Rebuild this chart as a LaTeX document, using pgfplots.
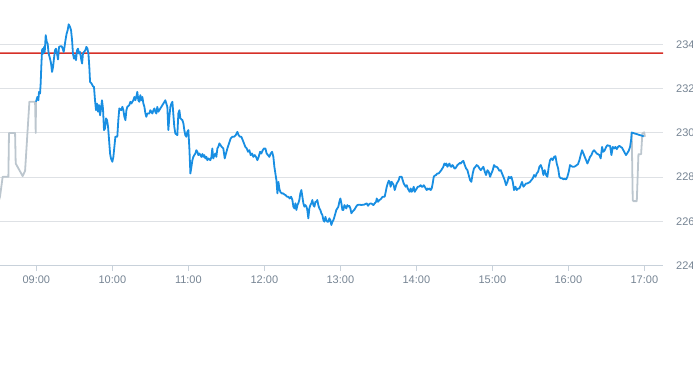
\documentclass[border=0pt]{standalone}
\usepackage{fontspec}
\setmainfont{Liberation Sans}
\usepackage{pgfplots}
\pgfplotsset{compat=1.18}
\definecolor{lineblue}{RGB}{24,142,226}
\definecolor{linegrey}{RGB}{188,198,206}
\definecolor{gridgrey}{RGB}{222,225,229}
\definecolor{axisgrey}{RGB}{200,209,218}
\definecolor{labelgrey}{RGB}{118,132,147}
\definecolor{refline}{RGB}{214,48,40}
\begin{document}
\begin{tikzpicture}[x=1pt,y=1pt]
\useasboundingbox (0,-99.5) rectangle (693,265.5);
\begin{axis}[
  at={(0,0)}, anchor=south west,
  scale only axis, width=663pt, height=265.5pt,
  xmin=511.3, xmax=1034.7, ymin=224, ymax=236,
  axis x line*=bottom, axis y line*=right,
  x axis line style={color=axisgrey, line width=1pt, -},
  y axis line style={draw=none},
  xtick={540,600,660,720,780,840,900,960,1020},
  xticklabels={09:00,10:00,11:00,12:00,13:00,14:00,15:00,16:00,17:00},
  ytick={224,226,228,230,232,234},
  yticklabels={224,226,228,230,232,234},
  ymajorgrids, grid style={color=gridgrey, line width=0.8pt},
  xtick style={color=axisgrey, line width=1pt},
  ytick style={draw=none},
  xtick align=outside, major tick length=5pt,
  xticklabel style={font=\fontsize{11}{13}\selectfont, color=labelgrey, inner sep=0pt, anchor=north, yshift=-5pt},
  yticklabel style={font=\fontsize{11}{13}\selectfont, color=labelgrey, inner sep=0pt, anchor=west, xshift=13pt},
  clip=true,
]
% pre-market (grey)
\addplot[draw=linegrey, line width=1.8pt, line join=round] coordinates {
(509.5,226.75)(511.3,227.11)(513.4,228.01)(517.9,228.01)(518.4,229.99)(523.2,229.99)(523.7,228.61)(529.2,228.04)(531.1,228.28)(534.5,231.40)(539.0,231.40)(539.5,229.99)(539.7,231.40)
};
% after-hours (grey)
\addplot[draw=linegrey, line width=1.8pt, line join=round] coordinates {
(1010.0,230.01)(1010.8,226.96)(1011.3,226.91)(1014.0,226.91)(1015.3,229.03)(1017.4,229.03)(1018.4,229.97)(1019.8,230.02)(1020.5,229.82)
};
% reference line
\addplot[draw=none, fill=refline] coordinates {(505,233.57)(1040,233.57)(1040,233.63)(505,233.63)} \closedcycle;
% session (blue)
\addplot[draw=lineblue, line width=1.8pt, line join=round] coordinates {
(539.7,231.40)(540.8,231.62)(541.6,231.47)(542.1,231.85)(542.9,231.77)(543.4,232.22)(543.9,232.98)(544.5,233.73)(545.0,233.80)(545.5,233.58)(546.1,233.88)(546.6,233.65)(547.4,234.41)(548.2,234.11)(548.9,234.03)(549.7,233.58)(550.8,233.35)(551.6,233.13)(552.4,232.75)(553.2,232.98)(553.9,233.35)(554.7,233.73)(555.5,233.80)(556.3,233.58)(557.1,233.31)(557.9,233.88)(558.9,233.91)(560.0,233.91)(560.8,233.80)(561.6,233.65)(562.4,233.95)(563.2,234.26)(563.9,234.48)(564.7,234.63)(565.5,234.90)(566.6,234.78)(567.4,234.63)(568.2,234.18)(568.9,233.58)(569.7,233.35)(570.5,233.50)(571.3,233.28)(572.1,233.73)(572.9,233.80)(573.7,233.58)(574.5,233.65)(575.3,233.35)(576.1,233.13)(576.8,233.58)(577.6,233.65)(578.7,233.73)(579.5,233.88)(580.3,233.81)(581.1,233.58)(581.8,232.98)(582.4,232.30)(583.2,232.25)(583.9,232.19)(584.7,232.10)(585.5,232.07)(586.3,231.47)(587.1,231.02)(587.9,231.32)(588.7,230.95)(589.5,231.25)(590.3,230.79)(591.1,231.10)(591.8,231.47)(592.6,231.10)(593.4,230.12)(594.2,230.19)(595.0,230.65)(595.8,230.57)(596.6,230.27)(597.4,229.67)(598.2,229.06)(598.9,228.84)(600.0,228.69)(600.8,228.91)(601.6,229.37)(602.4,229.82)(603.9,229.82)(604.7,230.57)(605.5,231.10)(607.1,231.02)(607.9,231.17)(608.7,231.02)(609.5,230.72)(610.3,230.57)(611.1,231.02)(611.8,231.17)(613.4,231.25)(614.2,231.40)(615.0,231.32)(615.8,231.40)(616.6,231.47)(617.4,231.62)(618.2,231.47)(618.9,231.62)(619.7,231.85)(620.5,231.47)(621.3,231.40)(622.1,231.70)(622.9,231.47)(623.7,231.62)(624.5,231.32)(625.3,231.17)(626.1,230.87)(626.8,230.72)(627.6,230.87)(629.2,230.87)(630.0,231.02)(630.8,230.95)(631.6,230.87)(632.4,231.02)(633.2,231.10)(633.9,230.95)(634.7,230.87)(635.5,231.17)(636.3,230.95)(637.1,231.02)(637.9,231.10)(638.7,231.17)(639.5,231.25)(640.3,231.32)(641.1,231.40)(641.8,231.47)(642.6,231.32)(643.4,231.17)(644.2,230.12)(645.0,230.72)(645.8,231.17)(646.6,231.32)(647.4,231.40)(648.2,230.79)(648.9,230.27)(649.7,229.97)(651.3,229.89)(652.1,230.87)(652.9,231.02)(653.7,230.65)(655.3,230.57)(656.1,230.42)(656.8,230.12)(657.6,229.89)(658.4,229.82)(659.2,230.04)(660.0,230.12)(660.8,229.29)(661.6,228.16)(662.4,228.46)(663.2,228.76)(663.9,228.91)(664.7,228.99)(665.5,229.06)(666.3,229.21)(667.1,229.14)(667.9,228.99)(668.7,229.06)(669.5,228.99)(670.3,228.91)(671.1,229.04)(671.8,228.91)(672.6,228.99)(673.4,228.84)(674.2,228.91)(675.0,228.76)(675.8,228.84)(677.4,228.76)(678.2,228.91)(678.9,229.29)(679.7,228.84)(680.5,228.99)(681.3,229.06)(682.1,228.91)(682.9,229.29)(683.7,229.37)(684.5,229.52)
(686.3,229.36)(687.6,229.29)(688.7,228.84)(689.7,229.06)(690.8,229.29)(692.1,229.52)(693.4,229.74)(694.7,229.82)(696.1,229.82)(697.4,229.89)(698.7,230.04)(699.7,229.89)(700.8,229.82)(701.8,229.82)(702.9,229.67)(703.9,229.52)(705.0,229.36)(706.1,229.29)(707.1,229.14)(708.2,229.21)(709.2,228.99)(710.3,229.06)(711.3,228.91)(712.4,228.99)(713.4,228.91)(714.5,228.76)(715.5,228.91)(716.6,229.14)(717.6,229.06)(718.7,229.21)(719.7,229.29)(720.8,229.29)(721.8,229.06)(722.9,228.99)(723.9,228.91)(725.0,229.06)(726.1,229.14)(727.1,228.91)(727.9,228.46)(728.7,228.16)(729.5,227.86)(730.3,227.26)(731.1,227.78)(731.8,227.48)(732.6,227.33)(733.7,227.26)(734.7,227.26)(735.8,227.21)(736.8,227.18)(737.9,227.11)(738.9,227.11)(740.0,227.03)(741.1,227.11)(742.1,226.96)(742.9,226.66)(743.7,226.58)(744.5,226.81)(745.3,226.51)(746.1,226.73)(746.8,226.81)(747.6,226.96)(748.4,227.26)(749.2,227.41)(750.0,227.11)(750.8,226.81)(751.6,226.66)(752.4,226.73)(753.2,226.66)(753.9,226.51)(754.7,226.13)(755.5,226.58)(756.3,226.73)(757.1,226.81)(757.9,226.96)(758.7,226.73)(759.5,226.66)(760.3,226.88)(761.1,226.88)(761.8,226.96)(762.6,226.73)(763.4,226.58)(764.2,226.51)(765.0,226.36)(765.8,226.28)(766.6,226.05)(767.4,225.98)(768.2,226.20)(768.9,226.05)(769.7,225.98)(770.5,225.98)(771.3,226.13)(772.1,226.05)(772.9,225.83)(773.7,225.98)(774.5,226.05)(775.3,226.20)(776.1,226.36)(776.8,226.51)(777.6,226.58)(778.4,226.66)(779.2,226.88)(780.0,227.03)(780.8,226.81)(781.6,226.51)(782.4,226.51)(783.2,226.73)(783.9,226.66)(784.7,226.58)(785.5,226.73)(786.3,226.66)(787.1,226.69)(787.9,226.58)(788.7,226.36)(789.5,226.43)(790.3,226.48)(791.3,226.54)(792.4,226.66)(793.4,226.73)(794.5,226.75)(795.5,226.75)(796.6,226.73)(797.6,226.75)(798.7,226.75)(799.7,226.78)(800.8,226.81)(801.8,226.70)(802.9,226.78)(803.9,226.81)(805.0,226.78)(806.1,226.73)(807.1,226.81)(808.2,226.88)(808.7,227.03)(809.7,226.88)(810.8,226.96)(811.8,226.99)(812.9,227.08)(813.9,227.11)(815.0,227.11)(815.8,227.33)(816.6,227.56)(817.4,227.71)(818.2,227.83)(818.9,227.78)(819.7,227.56)(820.5,227.78)(821.3,227.71)(822.1,227.63)(822.9,227.41)(823.7,227.56)(824.5,227.71)(825.3,227.78)(826.1,227.86)(826.8,228.01)(827.6,228.01)(828.4,228.01)(829.2,227.86)(830.0,227.71)(830.8,227.63)(831.6,227.56)(832.4,227.63)(833.2,227.48)(833.9,227.41)(834.7,227.33)(835.5,227.48)(836.3,227.33)(837.1,227.41)(837.9,227.56)(838.7,227.33)(839.5,227.41)(840.3,227.48)(841.1,227.56)(841.8,227.56)(842.6,227.59)(843.4,227.63)(844.2,227.56)(845.0,227.56)(845.8,227.63)(846.6,227.56)(847.4,227.48)(848.2,227.41)(848.9,227.48)(849.7,227.44)(850.5,227.48)(851.3,227.41)(852.1,227.48)(852.9,227.71)(853.7,228.01)(854.5,228.06)(855.5,228.09)(856.6,228.16)(857.6,228.16)(858.7,228.24)(859.7,228.31)(860.5,228.39)(861.3,228.46)(862.1,228.61)(862.9,228.54)(863.7,228.61)(864.5,228.46)(865.3,228.54)(866.1,228.61)(866.8,228.49)(867.6,228.46)(868.4,228.54)(869.2,228.49)(870.0,228.39)(870.8,228.39)(871.6,228.46)(872.4,228.54)(873.2,228.58)(873.9,228.61)(874.5,228.64)
(875.0,228.61)(876.1,228.69)(877.1,228.73)(878.2,228.54)(879.2,228.39)(880.3,228.31)(881.3,228.09)(882.4,227.86)(883.4,227.78)(884.5,228.16)(885.5,228.39)(886.6,228.46)(887.6,228.54)(888.7,228.49)(889.8,228.39)(890.8,228.31)(891.9,228.39)(892.9,228.46)(894.0,228.24)(895.0,228.09)(896.1,228.31)(897.1,228.24)(898.2,228.01)(899.2,228.16)(900.3,228.31)(901.3,228.54)(902.4,228.46)(903.4,228.46)(904.5,228.39)(905.5,228.28)(906.6,228.31)(907.6,228.16)(908.7,228.01)(909.7,227.86)(910.8,227.63)(911.9,227.78)(912.9,228.01)(914.0,227.94)(915.0,228.01)(916.1,227.78)(917.1,227.41)(918.2,227.56)(919.2,227.41)(920.3,227.48)(921.3,227.48)(922.4,227.63)(923.4,227.78)(924.5,227.56)(925.5,227.63)(926.6,227.71)(927.6,227.71)(928.7,227.74)(929.7,227.78)(930.8,227.86)(931.9,227.94)(932.9,228.09)(934.0,228.01)(935.0,228.16)(936.1,228.24)(937.1,228.46)(938.2,228.54)(939.2,228.39)(940.3,228.09)(941.3,228.31)(942.4,228.09)(943.4,228.01)(944.5,228.46)(945.5,228.76)(946.6,228.84)(947.6,228.76)(948.7,228.91)(949.8,228.94)(950.8,228.61)(951.9,228.39)(952.9,228.01)(954.0,227.94)(955.0,227.94)(956.1,227.90)(957.1,227.92)(958.2,227.89)(959.2,228.01)(960.3,228.24)(961.3,228.54)(962.4,228.49)(963.4,228.46)(964.5,228.46)(965.5,228.49)(966.6,228.54)(967.6,228.58)(968.7,228.76)(969.7,228.99)(970.8,229.21)(971.9,229.06)(972.9,228.91)(974.0,228.76)(975.0,228.61)(976.1,228.76)(977.1,228.91)(978.2,228.99)(979.2,229.14)(980.3,229.21)(981.3,229.14)(982.4,229.06)(983.4,229.03)(984.5,228.99)(985.5,228.84)(986.6,229.36)(987.6,229.14)(988.7,229.21)(989.8,229.36)(990.8,229.44)(991.9,229.41)(992.9,229.41)(994.0,228.99)(995.0,229.36)(996.1,229.29)(997.1,229.36)(998.2,229.26)(999.2,229.36)(1000.3,229.41)(1001.3,229.36)(1002.4,229.32)(1003.4,229.21)(1004.5,229.09)(1005.5,228.99)(1006.6,229.09)(1007.6,229.18)(1008.7,229.36)(1009.5,229.67)(1010.0,230.01)(1015.0,229.92)(1019.5,229.84)
};
\end{axis}
\end{tikzpicture}
\end{document}
